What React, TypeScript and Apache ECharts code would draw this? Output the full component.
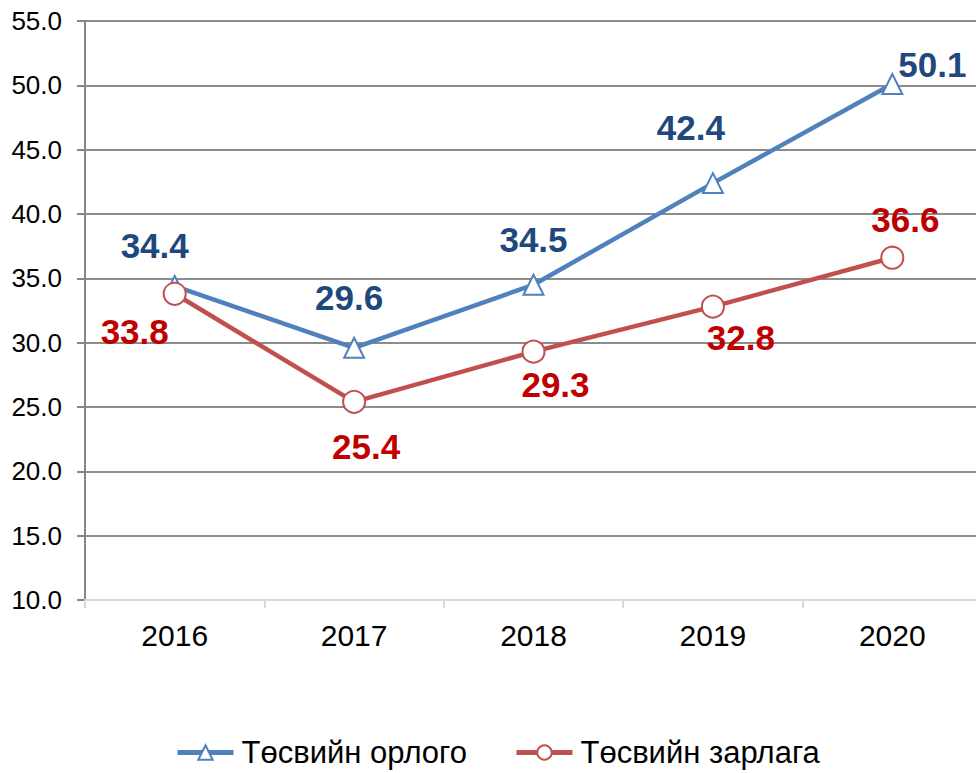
import React, { useEffect, useRef } from "react";
import * as echarts from "echarts";

const years = ["2016", "2017", "2018", "2019", "2020"];
const income = [34.4, 29.6, 34.5, 42.4, 50.1];
const expense = [33.8, 25.4, 29.3, 32.8, 36.6];
const seriesNames = ["Төсвийн орлого", "Төсвийн зарлага"];
const incomeLabelOffsets: [number, number][] = [[-20, -41], [-5, -50], [0, -45], [-22, -56], [40, -20]];
const expenseLabelOffsets: [number, number][] = [[-40, 38], [12, 45], [22, 33], [28, 31], [13, -38]];

const FONT = "'Liberation Sans', Arial, sans-serif";

export default function App() {
  const ref = useRef<HTMLDivElement>(null);
  useEffect(() => {
    if (!ref.current) return;
    const chart = echarts.init(ref.current, null, { renderer: "svg" });
    const labelStyle = (color: string) => ({
      show: true,
      position: "inside" as const,
      color,
      fontSize: 35,
      fontWeight: "bold" as const,
      fontFamily: FONT,
      formatter: (p: any) => Number(p.value).toFixed(1),
    });
    chart.setOption({
      animation: false,
      textStyle: { fontFamily: FONT },
      grid: { left: 85, top: 21, width: 897, height: 579, containLabel: false },
      xAxis: {
        type: "category",
        data: years,
        boundaryGap: true,
        axisLine: { show: true, lineStyle: { color: "#d9d9d9", width: 2 } },
        axisTick: { show: true, length: 8, lineStyle: { color: "#d9d9d9", width: 2 } },
        axisLabel: { color: "#000", fontSize: 30, margin: 20, fontFamily: FONT },
        z: 5,
      },
      yAxis: {
        type: "value",
        min: 10,
        max: 55,
        interval: 5,
        axisLine: { show: true, lineStyle: { color: "#868686", width: 2 } },
        axisTick: { show: true, length: 8, lineStyle: { color: "#868686", width: 2 } },
        axisLabel: {
          color: "#000",
          fontSize: 26,
          margin: 23,
          fontFamily: FONT,
          formatter: (v: number) => v.toFixed(1),
        },
        splitLine: { show: true, lineStyle: { color: "#8c8c8c", width: 2 } },
      },
      legend: {
        left: 175,
        top: 737,
        padding: 0,
        itemWidth: 56,
        itemHeight: 18,
        itemGap: 47,
        lineStyle: { width: 5 },
        textStyle: { fontSize: 31, color: "#000", fontFamily: FONT, padding: [0, 0, 0, 3] },
        data: seriesNames,
      },
      series: [
        {
          name: seriesNames[0],
          type: "line",
          data: income.map((v, i) => ({ value: v, label: { offset: incomeLabelOffsets[i] } })),
          symbol: "triangle",
          symbolSize: 20,
          lineStyle: { color: "#4f81bd", width: 4.5 },
          itemStyle: { color: "#fff", borderColor: "#4f81bd", borderWidth: 2 },
          label: labelStyle("#1f497d"),
          z: 3,
        },
        {
          name: seriesNames[1],
          type: "line",
          data: expense.map((v, i) => ({ value: v, label: { offset: expenseLabelOffsets[i] } })),
          symbol: "circle",
          symbolSize: 22,
          lineStyle: { color: "#c0504d", width: 4.5 },
          itemStyle: { color: "#fff", borderColor: "#c0504d", borderWidth: 2 },
          label: labelStyle("#c00000"),
          z: 3,
        },
      ],
    });
    return () => chart.dispose();
  }, []);
  return (
    <div style={{ position: "fixed", left: 0, top: 0, width: 976, height: 773, overflow: "hidden", background: "#fff" }}>
      <div ref={ref} style={{ width: 990, height: 773 }} />
    </div>
  );
}
